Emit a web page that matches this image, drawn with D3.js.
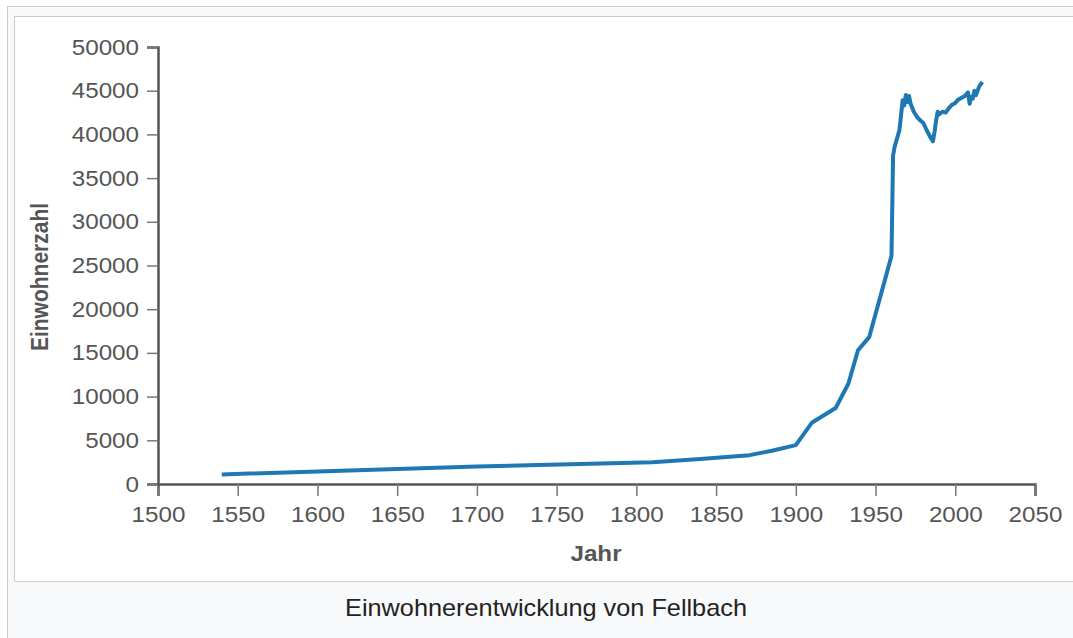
<!DOCTYPE html>
<html><head><meta charset="utf-8">
<script src="https://cdn.jsdelivr.net/npm/d3@7"></script>
<style>
html,body{margin:0;padding:0;background:#fff;}
svg{display:block;}
text{font-family:"Liberation Sans",Arial,sans-serif;}
</style></head>
<body>
<svg id="c" width="1073" height="638"></svg>
<script>
const years  = [1540,1700,1810,1840,1871,1885,1900,1910,1925,1933,1939,1946,1960,1961,1962,1965,1967,1968,1969,1970,1971,1972,1974,1976,1978,1980,1982,1984,1986,1987,1988,1989,1990,1992,1994,1996,1998,2000,2002,2004,2006,2008,2009,2010,2011,2012,2013,2015,2017];
const population = [1100,2000,2500,2850,3300,3800,4450,7000,8700,11500,15300,16800,26100,37600,38600,40500,43900,43300,44500,43700,44400,43500,42600,42000,41600,41300,40500,39800,39200,40300,41600,42600,42300,42600,42500,43000,43400,43600,44000,44200,44400,44800,43500,44300,44100,45000,44500,45500,46000];
const xTicks = [1500,1550,1600,1650,1700,1750,1800,1850,1900,1950,2000,2050];
const yTicks = [0,5000,10000,15000,20000,25000,30000,35000,40000,45000,50000];
const xTitle = "Jahr";
const yTitle = "Einwohnerzahl";
const caption = "Einwohnerentwicklung von Fellbach";

const SX = 1.1; // horizontal stretch of the reference's text
const svg = d3.select("#c");
// frames
svg.append("rect").attr("x",7.5).attr("y",6.5).attr("width",1100).attr("height",700)
  .attr("fill","#f8f9fa").attr("stroke","#c8ccd1").attr("stroke-width",1);
svg.append("rect").attr("x",14.5).attr("y",16.5).attr("width",1100).attr("height",565)
  .attr("fill","#fff").attr("stroke","#c8ccd1").attr("stroke-width",1);

const x = d3.scaleLinear().domain([1500,2050]).range([158,1035]);
const y = d3.scaleLinear().domain([0,50000]).range([484,47]);

const gx = svg.append("g").attr("transform","translate(0,484)")
  .call(d3.axisBottom(x).tickValues(xTicks).tickFormat(d3.format("d")).tickSize(12).tickSizeOuter(12).tickPadding(10));
const gy = svg.append("g").attr("transform","translate(158,0)")
  .call(d3.axisLeft(y).tickValues(yTicks).tickFormat(d3.format("d")).tickSize(11).tickSizeOuter(11).tickPadding(8));
[gx,gy].forEach(g=>{
  g.select(".domain").attr("stroke","#555").attr("stroke-width",2.5);
  g.selectAll(".tick line").attr("stroke","#777").attr("stroke-width",1.5);
  g.selectAll(".tick text").attr("fill","#555").attr("font-size",22)
   .attr("font-family","'Liberation Sans',Arial,sans-serif")
   .each(function(){
     const t = d3.select(this);
     const tx = +t.attr("x") || 0;
     t.attr("x",0).attr("transform",`translate(${tx},0) scale(${SX},1)`);
   });
});

const line = d3.line().x((d,i)=>x(years[i])).y(d=>y(d));
svg.append("path").datum(population).attr("d",line)
  .attr("fill","none").attr("stroke","#1f77b4").attr("stroke-width",4)
  .attr("stroke-linejoin","round").attr("stroke-linecap","butt");

svg.append("text").attr("transform",`translate(596,561) scale(${SX},1)`).attr("text-anchor","middle")
  .attr("font-size",22).attr("font-weight","bold").attr("fill","#555").text(xTitle);
svg.append("text").attr("transform","translate(48,277) rotate(-90) scale(1,1.1)").attr("text-anchor","middle")
  .attr("font-size",21).attr("font-weight","bold").attr("fill","#555").text(yTitle);

svg.append("text").attr("transform",`translate(546,616) scale(${SX},1)`).attr("text-anchor","middle")
  .attr("font-size",23).attr("fill","#222").text(caption);
</script>
</body></html>
